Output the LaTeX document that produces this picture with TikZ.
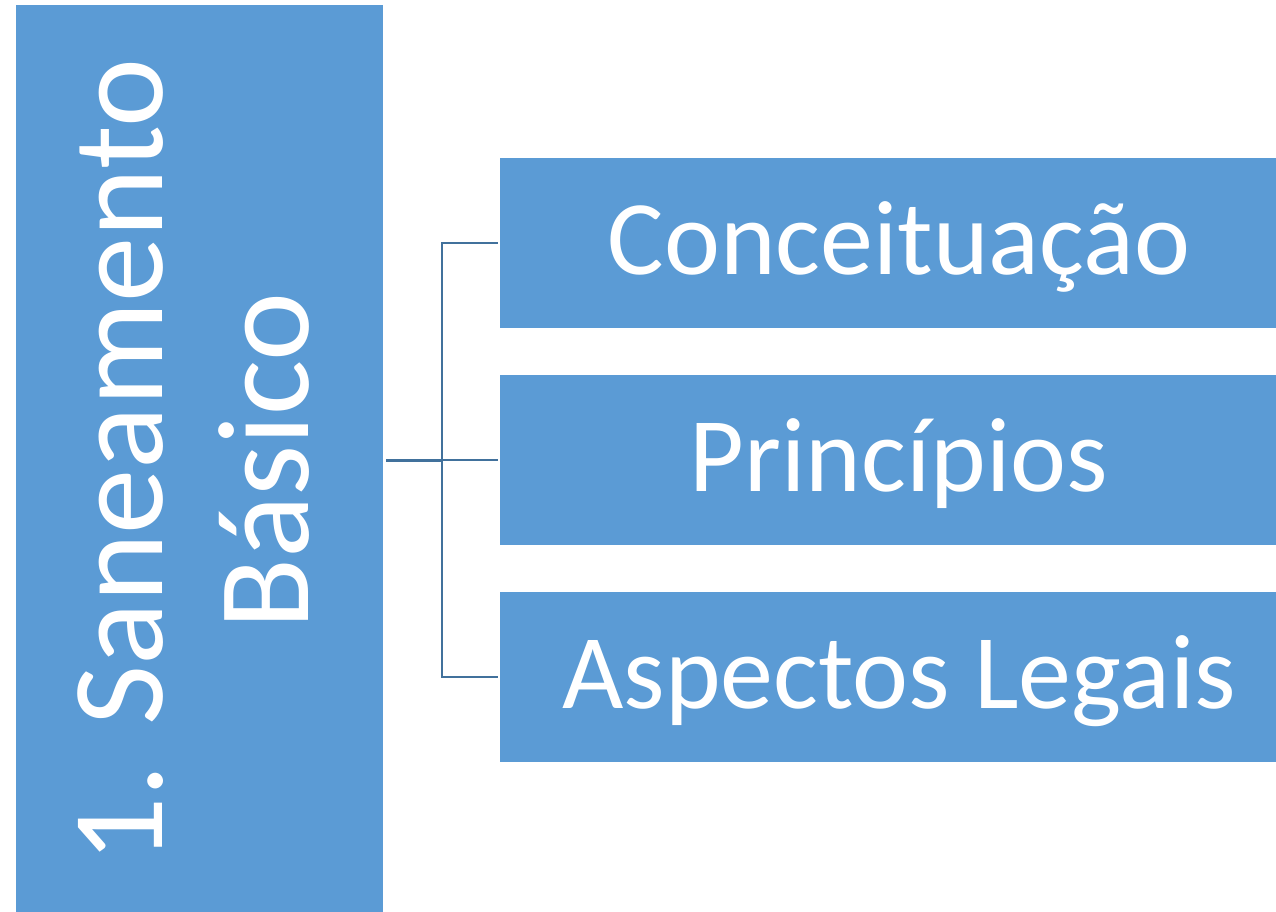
\documentclass[tikz,border=0pt]{standalone}
\usepackage{fontspec}
\setmainfont{Carlito}
\definecolor{boxblue}{HTML}{5B9BD5}
\definecolor{linkblue}{HTML}{41719C}
\begin{document}
\begin{tikzpicture}[x=0.75pt,y=-0.75pt,
  topic/.style={fill=boxblue,text=white,inner sep=0pt,minimum width=598.5pt,
    minimum height=127.5pt,text height=46.5pt,text depth=0pt,
    font=\fontsize{79.5}{95}\selectfont},
  trunk/.style={draw=linkblue,line width=2.25pt},
  branch/.style={draw=linkblue,line width=1.5pt}]
\clip (0,0) rectangle (1276,911);
\fill[white] (0,0) rectangle (1276,911);
% main box
\node[fill=boxblue,inner sep=0pt,minimum width=275.25pt,minimum height=682.5pt] (sb) at (199.5,460) {};
\node[rotate=90,text=white,inner sep=0pt,align=center,font=\fontsize{98}{109.5}\selectfont] (sbtxt) at (194,461) {1. Saneamento\\Básico};
% topics
\node[topic] (cc) at (899,243) {Conceituação};
\node[topic] (pr) at (899,460) {Princípios};
\node[topic] (al) at (899,677) {Aspectos Legais};
% connectors
\coordinate (hub) at (441.5,460);
\draw[trunk] ([xshift=2.25pt]sb.east) -- (hub);
\draw[branch] ([xshift=-1.5pt]cc.west) -- (hub |- cc.west) -- (hub |- al.west) -- ([xshift=-1.5pt]al.west);
\draw[branch] (hub) -- ([xshift=-1.5pt]pr.west);
\end{tikzpicture}
\end{document}
